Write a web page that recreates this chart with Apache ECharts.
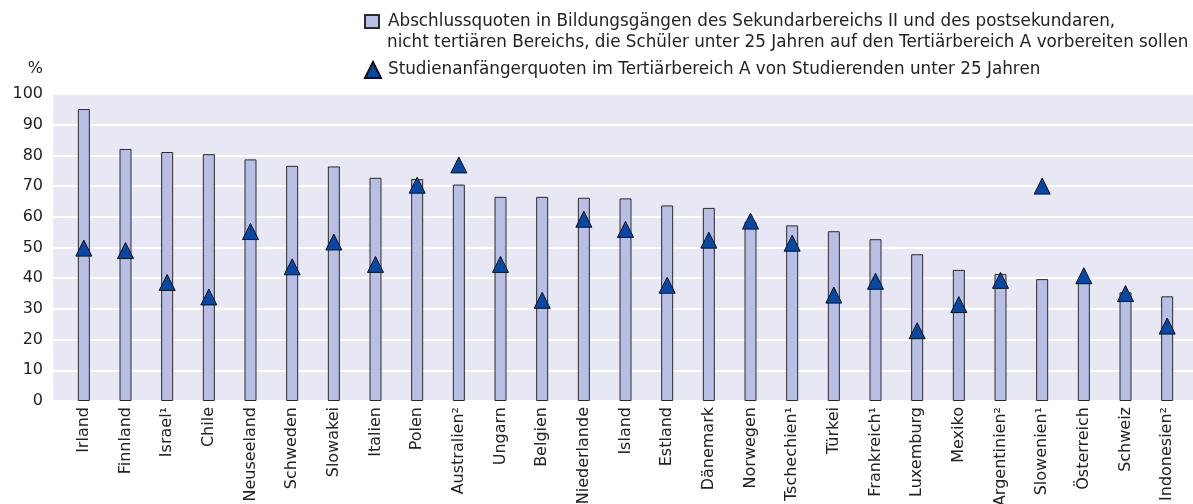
<!DOCTYPE html>
<html>
<head>
<meta charset="utf-8">
<script src="https://cdn.jsdelivr.net/npm/echarts@6/dist/echarts.min.js"></script>
<style>
  html, body { margin: 0; padding: 0; background: #fff; }
  #chart { width: 1193px; height: 504px; }
</style>
</head>
<body>
<div id="chart"></div>
<script>
const countries = ['Irland', 'Finnland', 'Israel¹', 'Chile', 'Neuseeland', 'Schweden', 'Slowakei', 'Italien', 'Polen', 'Australien²', 'Ungarn', 'Belgien', 'Niederlande', 'Island', 'Estland', 'Dänemark', 'Norwegen', 'Tschechien¹', 'Türkei', 'Frankreich¹', 'Luxemburg', 'Mexiko', 'Argentinien²', 'Slowenien¹', 'Österreich', 'Schweiz', 'Indonesien²']
const graduation = [95.1, 82.1, 81.1, 80.4, 78.7, 76.6, 76.4, 72.7, 72.3, 70.5, 66.5, 66.5, 66.2, 66.0, 63.7, 62.9, 58.4, 57.2, 55.3, 52.7, 47.8, 42.7, 41.4, 39.7, 38.5, 35.4, 34.1]
const entry = [49.8, 49.0, 38.6, 33.9, 55.2, 43.7, 51.8, 44.5, 70.3, 76.9, 44.5, 32.8, 59.2, 55.9, 37.7, 52.4, 58.6, 51.4, 34.5, 39.0, 22.9, 31.4, 39.3, 70.0, 40.8, 35.0, 24.4]
const yTicks = [0, 10, 20, 30, 40, 50, 60, 70, 80, 90, 100]

const barName = 'Abschlussquoten in Bildungsgängen des Sekundarbereichs II und des postsekundaren,'
const barName2 = 'nicht tertiären Bereichs, die Schüler unter 25 Jahren auf den Tertiärbereich A vorbereiten sollen'
const triName = 'Studienanfängerquoten im Tertiärbereich A von Studierenden unter 25 Jahren'

const font = 'DejaVu Sans, Verdana, sans-serif'
const legendSize = 16.8
const chart = echarts.init(document.getElementById('chart'))

chart.setOption({
  animation: false,
  textStyle: { fontFamily: font, color: '#222' },
  legend: [
    {
      data: [{ name: barName, icon: 'rect' }],
      left: 364, top: 13, padding: 0,
      itemWidth: 14, itemHeight: 13,
      textStyle: { fontFamily: font, fontSize: legendSize, color: '#222', padding: [0, 0, 0, 4] }
    },
    {
      data: [triName],
      left: 364, top: 61, padding: 0,
      itemWidth: 16, itemHeight: 16,
      textStyle: { fontFamily: font, fontSize: legendSize, color: '#222', padding: [0, 0, 0, 2] }
    }
  ],
  graphic: [
    {
      type: 'text', left: 387, top: 34,
      style: { text: barName2, font: legendSize + 'px ' + font, fill: '#222' }
    }
  ],
  grid: [
    { left: 53, right: 0, top: 94, bottom: 103, outerBoundsMode: 'none', show: true, backgroundColor: '#e8e8f5', borderWidth: 0 },
    { left: 63, right: 5, top: 94, bottom: 103, outerBoundsMode: 'none' }
  ],
  xAxis: [
    { gridIndex: 0, type: 'category', data: [''], show: false },
    {
      gridIndex: 1, type: 'category', data: countries,
      axisLine: { show: false }, axisTick: { show: false },
      axisLabel: { interval: 0, rotate: 90, margin: 6, fontSize: 16, color: '#222', fontFamily: font }
    }
  ],
  yAxis: [
    {
      gridIndex: 0, type: 'value', min: yTicks[0], max: yTicks[yTicks.length - 1], interval: 10,
      name: '%', nameLocation: 'end', nameGap: 25,
      nameTextStyle: { fontSize: 16, color: '#222', fontFamily: font, align: 'right', verticalAlign: 'middle', padding: [0, 10, 0, 0] },
      axisLine: { show: false }, axisTick: { show: false },
      axisLabel: { margin: 10, fontSize: 16, color: '#222', fontFamily: font },
      splitLine: { show: true, lineStyle: { color: '#ffffff', width: 2 } }
    },
    { gridIndex: 1, type: 'value', min: 0, max: 100, show: false }
  ],
  series: [
    {
      name: barName, type: 'bar', xAxisIndex: 1, yAxisIndex: 1,
      data: graduation, barWidth: 12,
      itemStyle: { color: '#b9bfe4', borderColor: '#2a2a2a', borderWidth: 1 }
    },
    {
      name: triName, type: 'scatter', xAxisIndex: 1, yAxisIndex: 1,
      data: entry, symbol: 'triangle', symbolSize: [16, 16],
      itemStyle: { color: '#0747a6', borderColor: '#111', borderWidth: 1, opacity: 1 }
    }
  ]
})
</script>
</body>
</html>
